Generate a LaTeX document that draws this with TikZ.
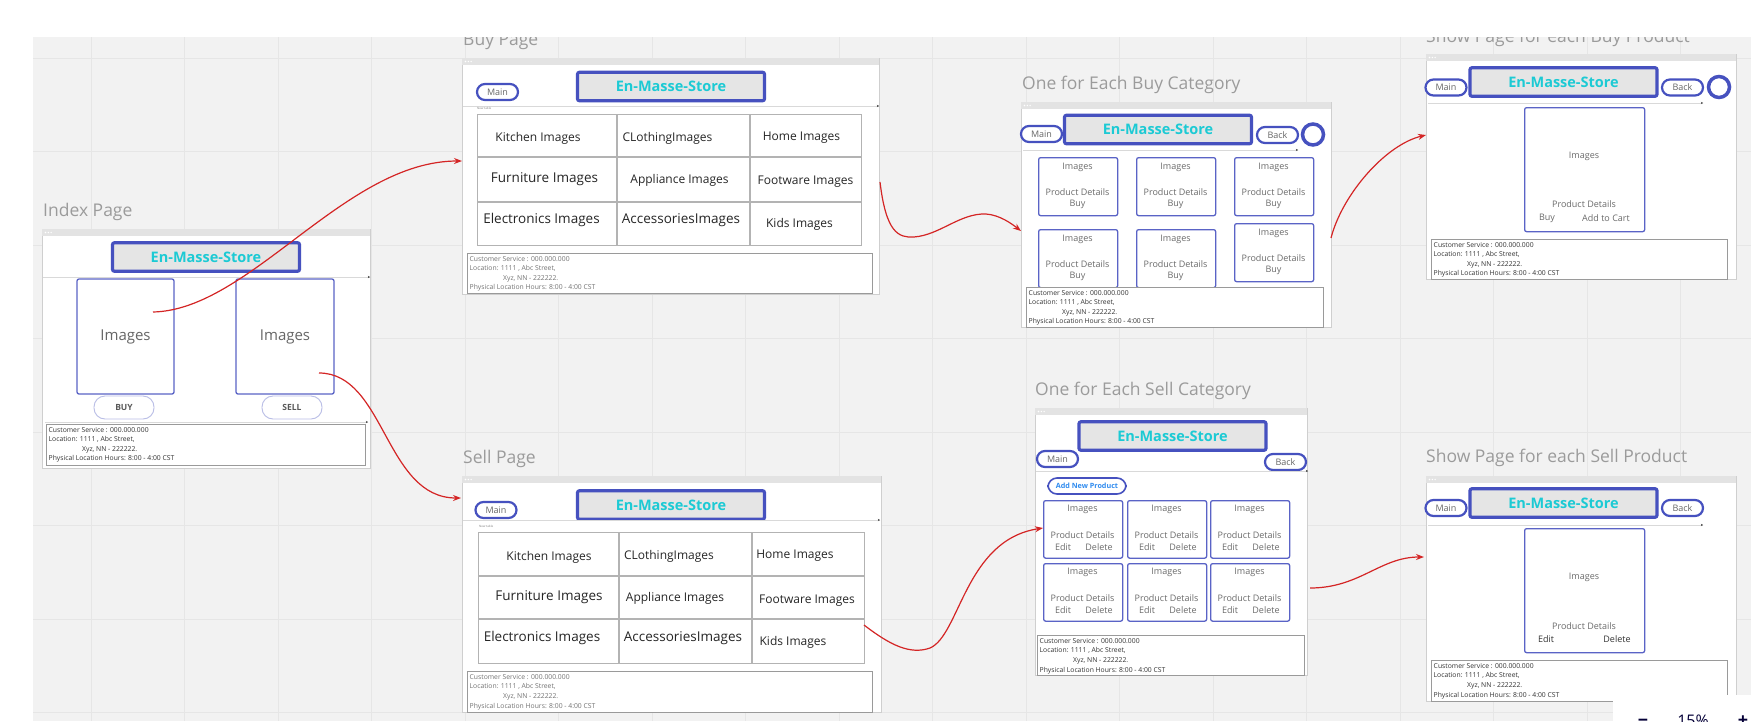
\documentclass[tikz,border=0pt]{standalone}
\usepackage{fontspec}
\setmainfont{Open Sans}
\usetikzlibrary{arrows.meta, positioning}
\definecolor{canvasgray}{HTML}{F2F2F2}
\definecolor{gridgray}{HTML}{E6E6E6}
\definecolor{framegray}{HTML}{CFCFCF}
\definecolor{bargray}{HTML}{E3E3E3}
\definecolor{titlegray}{HTML}{9B9B9B}
\definecolor{storeblue}{HTML}{4651BF}
\definecolor{storecyan}{HTML}{1CCAD4}
\definecolor{boxgray}{HTML}{E5E5E5}
\definecolor{prodblue}{HTML}{5A63C6}
\definecolor{tablegray}{HTML}{B3B3B3}
\definecolor{footgray}{HTML}{9A9A9A}
\definecolor{flowred}{HTML}{D42525}
\definecolor{addblue}{HTML}{2F8BEF}
\definecolor{pillgray}{HTML}{B9BDE6}
\definecolor{zoomnavy}{HTML}{050038}
\newcommand{\pxsize}[1]{\fontsize{#1}{#1}\selectfont}
\newcommand{\footlines}{Customer Service : 000.000.000\\Location: 1111 , Abc Street,\\\hspace*{33.5pt}Xyz, NN - 222222.\\Physical Location Hours: 8:00 - 4:00 CST}
% frame with grey top bar: name, x, y, width, height
\newcommand{\pageframe}[5]{%
    \node[pageframe, minimum width=#4pt, minimum height=#5pt] (#1) at (#2,#3) {};
    \fill[bargray] (#2,#3) rectangle ++(#4,7);
    \foreach \d in {0,1,2} \fill[white] ({#2+3.5+2.8*\d},{#3+3.5}) circle[radius=0.8pt];
}
\tikzset{
    gridline/.style={draw=gridgray, line width=0.8pt},
    pageframe/.style={rectangle, draw=framegray, line width=0.9pt, fill=white,
                      inner sep=0pt, anchor=north west},
    pagetitle/.style={font=\pxsize{17.5}, text=titlegray, anchor=base west, inner sep=0pt},
    storetitle/.style={rectangle, rounded corners=2pt, draw=storeblue, line width=3.2pt,
                       fill=boxgray, font=\pxsize{14.5}\bfseries, text=storecyan,
                       minimum width=187pt, minimum height=28.5pt, inner sep=0pt},
    navbtn/.style={rectangle, rounded corners=8pt, draw=storeblue, line width=2.2pt,
                   fill=white, font=\pxsize{9}, text=black!60, inner sep=0pt,
                   minimum width=41pt, minimum height=16pt},
    ringbtn/.style={circle, draw=storeblue, line width=3.5pt, fill=white,
                    minimum size=21pt, inner sep=0pt},
    headline/.style={draw=black!15, line width=0.8pt,
                     -{Stealth[length=2pt, width=2pt, black!80]}},
    imgbox/.style={rectangle, rounded corners=2pt, draw=prodblue, line width=1.3pt,
                   fill=white, font=\pxsize{15}, text=black!60, inner sep=0pt},
    pillbtn/.style={rectangle, rounded corners=11pt, draw=pillgray, line width=0.9pt,
                    fill=white, font=\pxsize{8.5}\bfseries, text=black!65,
                    minimum width=60pt, minimum height=23pt, inner sep=0pt},
    prodbox/.style={rectangle, rounded corners=2pt, draw=prodblue, line width=1.3pt,
                    fill=white, inner sep=0pt, anchor=north west},
    prodtxt/.style={font=\pxsize{9}, text=black!58, inner sep=0pt},
    cattable/.style={rectangle, draw=tablegray, line width=1.4pt, fill=white,
                     inner sep=0pt, anchor=north west},
    tablegrid/.style={draw=tablegray, line width=1.4pt},
    cellsm/.style={font=\pxsize{12}, text=black!85, inner sep=0pt},
    celllg/.style={font=\pxsize{13.5}, text=black!85, inner sep=0pt},
    tinytxt/.style={font=\pxsize{3}, text=black!50, anchor=north west, inner sep=0pt},
    addbtn/.style={navbtn, rounded corners=9pt, line width=1.6pt, minimum width=78pt,
                   font=\pxsize{7.2}\bfseries, text=addblue},
    footbox/.style={rectangle, draw=footgray, line width=1.3pt, fill=white,
                    inner sep=0pt, anchor=north west},
    foottxt/.style={font=\fontsize{6.8}{9.6}\selectfont, text=black!80, align=left,
                    anchor=north west, inner sep=0pt},
    flow/.style={-{Stealth[length=8pt, width=6pt]}, draw=flowred, line width=1.2pt},
}

\begin{document}
\begin{tikzpicture}[x=1pt, y=-1pt]
    \useasboundingbox (0,0) rectangle (1751,721);
    % canvas and grid
    \fill[white] (0,0) rectangle (1751,721);
    \fill[canvasgray] (33,37) rectangle (1751,721);
    \foreach \gx in {0,...,17} \draw[gridline] ({91+93.5*\gx},37) -- ({91+93.5*\gx},721);
    \foreach \gy in {0,...,7} \draw[gridline] (33,{58+93.5*\gy}) -- (1751,{58+93.5*\gy});

    % Index page
    \node[pagetitle] (idxlbl) at (43,216) {Index Page};
    \pageframe{idxframe}{42}{229}{328}{239}
    \node[storetitle] (idxstore) at (206,257) {En-Masse-Store};
    \draw[headline] (43,277) -- (370,277);
    \node[imgbox, minimum width=97pt, minimum height=115pt] (idximgbuy) at (125.5,336.5) {Images};
    \node[imgbox, minimum width=98pt, minimum height=115pt] (idximgsell) at (285,336.5) {Images};
    \node[pillbtn] (idxbuy) at (124,407.5) {BUY};
    \node[pillbtn] (idxsell) at (292,407.5) {SELL};
    \draw[headline] (45,422) -- (368,422);
    \node[footbox, minimum width=319pt, minimum height=41pt] (idxfoot) at (46,424) {};
    \node[foottxt] (idxfoottxt) at (48.5,427) {\footlines};

    % Buy page
    \node[pagetitle] (buylbl) at (463,45) {Buy Page};
    \pageframe{buyframe}{462}{58}{417}{236}
    \node[navbtn] (buymain) at (497.5,92) {Main};
    \node[storetitle] (buystore) at (671,86.5) {En-Masse-Store};
    \draw[headline] (463,106) -- (879,106);
    \node[tinytxt] (buynewtbl) at (477,107.5) {New table};
    \node[cattable, minimum width=384pt, minimum height=131pt] (buytable) at (477,114) {};
    \draw[tablegrid] (617,114) -- (617,245) (750,114) -- (750,245)
                     (477,157) -- (861,157) (477,202) -- (861,202);
    \node[cellsm] (buyc11) at (538,138) {Kitchen Images};
    \node[cellsm] (buyc12) at (667.5,138) {CLothingImages};
    \node[cellsm] (buyc13) at (801.5,138) {Home Images};
    \node[celllg] (buyc21) at (544.5,179) {Furniture Images};
    \node[cellsm] (buyc22) at (679.5,180) {Appliance Images};
    \node[cellsm] (buyc23) at (805.5,182) {Footware Images};
    \node[celllg] (buyc31) at (541.5,220) {Electronics Images};
    \node[celllg] (buyc32) at (681,220) {AccessoriesImages};
    \node[cellsm] (buyc33) at (799.5,224) {Kids Images};
    \node[footbox, minimum width=405pt, minimum height=40pt] (buyfoot) at (467,253) {};
    \node[foottxt, text=black!55] (buyfoottxt) at (469.5,256) {\footlines};

    % One for each buy category
    \node[pagetitle] (bcatlbl) at (1022,89) {One for Each Buy Category};
    \pageframe{bcatframe}{1021}{102}{310}{225}
    \node[navbtn] (bcatmain) at (1041.5,134) {Main};
    \node[storetitle] (bcatstore) at (1158,129.5) {En-Masse-Store};
    \node[navbtn] (bcatback) at (1277.5,135) {Back};
    \node[ringbtn] (bcatring) at (1313,134.5) {};
    \draw[headline] (1023,150) -- (1298,150);
    \foreach \r/\c/\bx/\by in {1/1/1038/157, 1/2/1136/157, 1/3/1234/157,
                               2/1/1038/229, 2/2/1136/229, 2/3/1234/223} {
        \node[prodbox, minimum width=79pt, minimum height=58pt] (bcat\r\c) at (\bx,\by) {};
        \node[prodtxt] (bcatimg\r\c) at ({\bx+39.5},{\by+10}) {Images};
        \node[prodtxt] (bcatdet\r\c) at ({\bx+39.5},{\by+35}) {Product Details};
        \node[prodtxt] (bcatbuy\r\c) at ({\bx+39.5},{\by+47}) {Buy};
    }
    \node[footbox, minimum width=297pt, minimum height=40pt] (bcatfoot) at (1026,287) {};
    \node[foottxt] (bcatfoottxt) at (1028.5,290) {\footlines};

    % Show page for each buy product
    \node[pagetitle] (bshowlbl) at (1426,42) {Show Page for each Buy Product};
    \pageframe{bshowframe}{1426}{54}{310}{225}
    \node[navbtn] (bshowmain) at (1446,87.5) {Main};
    \node[storetitle] (bshowstore) at (1563.5,82) {En-Masse-Store};
    \node[navbtn] (bshowback) at (1682.5,87.5) {Back};
    \node[ringbtn] (bshowring) at (1719,87) {};
    \draw[headline] (1428,103) -- (1703,103);
    \node[prodbox, minimum width=120pt, minimum height=124pt] (bshowprod) at (1524,107) {};
    \node[prodtxt] (bshowimg) at (1584,156) {Images};
    \node[prodtxt] (bshowdet) at (1584,204) {Product Details};
    \node[prodtxt] (bshowbuy) at (1547,218) {Buy};
    \node[prodtxt] (bshowcart) at (1606,218) {Add to Cart};
    \node[footbox, minimum width=296pt, minimum height=40pt] (bshowfoot) at (1431,239) {};
    \node[foottxt] (bshowfoottxt) at (1433.5,242) {\footlines};

    % Sell page
    \node[pagetitle] (selllbl) at (463,463) {Sell Page};
    \pageframe{sellframe}{462}{476}{419}{236}
    \node[navbtn] (sellmain) at (496,510) {Main};
    \node[storetitle] (sellstore) at (671,505) {En-Masse-Store};
    \draw[headline] (463,520) -- (880,520);
    \node[tinytxt] (sellnewtbl) at (479,525.5) {New table};
    \node[cattable, minimum width=386pt, minimum height=131pt] (selltable) at (478,532) {};
    \draw[tablegrid] (619,532) -- (619,663) (752,532) -- (752,663)
                     (478,576) -- (864,576) (478,619) -- (864,619);
    \node[cellsm] (sellc11) at (549,557) {Kitchen Images};
    \node[cellsm] (sellc12) at (669,556) {CLothingImages};
    \node[cellsm] (sellc13) at (795,556) {Home Images};
    \node[celllg] (sellc21) at (549,597) {Furniture Images};
    \node[cellsm] (sellc22) at (675,598) {Appliance Images};
    \node[cellsm] (sellc23) at (807,601) {Footware Images};
    \node[celllg] (sellc31) at (542,638) {Electronics Images};
    \node[celllg] (sellc32) at (683,638) {AccessoriesImages};
    \node[cellsm] (sellc33) at (793,642) {Kids Images};
    \node[footbox, minimum width=405pt, minimum height=41pt] (sellfoot) at (467,671) {};
    \node[foottxt, text=black!55] (sellfoottxt) at (469.5,674) {\footlines};

    % One for each sell category
    \node[pagetitle] (scatlbl) at (1035,395) {One for Each Sell Category};
    \pageframe{scatframe}{1035}{408}{272}{267}
    \node[storetitle] (scatstore) at (1172.5,436) {En-Masse-Store};
    \node[navbtn] (scatmain) at (1057.5,459) {Main};
    \node[navbtn] (scatback) at (1285.5,462) {Back};
    \draw[headline] (1036,471) -- (1308,471);
    \node[addbtn] (scatadd) at (1087,486) {Add New Product};
    \foreach \r/\c/\bx/\by in {1/1/1043/500, 1/2/1127/500, 1/3/1210/500,
                               2/1/1043/563, 2/2/1127/563, 2/3/1210/563} {
        \node[prodbox, minimum width=79pt, minimum height=57.5pt] (scat\r\c) at (\bx,\by) {};
        \node[prodtxt] (scatimg\r\c) at ({\bx+39.5},{\by+9}) {Images};
        \node[prodtxt] (scatdet\r\c) at ({\bx+39.5},{\by+35}) {Product Details};
        \node[prodtxt] (scatedit\r\c) at ({\bx+20},{\by+47}) {Edit};
        \node[prodtxt] (scatdel\r\c) at ({\bx+56},{\by+47}) {Delete};
    }
    \node[footbox, minimum width=267pt, minimum height=40pt] (scatfoot) at (1037,635) {};
    \node[foottxt] (scatfoottxt) at (1039.5,638) {\footlines};

    % Show page for each sell product
    \node[pagetitle] (sshowlbl) at (1426,462) {Show Page for each Sell Product};
    \pageframe{sshowframe}{1426}{476}{310}{225}
    \node[navbtn] (sshowmain) at (1446,508) {Main};
    \node[storetitle] (sshowstore) at (1563.5,503) {En-Masse-Store};
    \node[navbtn] (sshowback) at (1682.5,508) {Back};
    \draw[headline] (1428,525) -- (1703,525);
    \node[prodbox, minimum width=120pt, minimum height=124pt] (sshowprod) at (1524,528) {};
    \node[prodtxt] (sshowimg) at (1584,577) {Images};
    \node[prodtxt] (sshowdet) at (1584,626) {Product Details};
    \node[prodtxt, text=black!80] (sshowedit) at (1546,639) {Edit};
    \node[prodtxt, text=black!80] (sshowdel) at (1617,639) {Delete};
    \node[footbox, minimum width=296pt, minimum height=41pt] (sshowfoot) at (1431,660) {};
    \node[foottxt] (sshowfoottxt) at (1433.5,663) {\footlines};

    % flow between pages
    \coordinate (tobuy0) at (153,312);
    \coordinate (tobuy1) at (462,161);
    \coordinate (tosell0) at (319,373);
    \coordinate (tosell1) at (461,498);
    \coordinate (tobcat0) at (880,182);
    \coordinate (tobcat1) at (1021,231);
    \coordinate (tobshow0) at (1331,238);
    \coordinate (tobshow1) at (1426,135);
    \coordinate (toscat0) at (864,625);
    \coordinate (toscat1) at (1043,528);
    \coordinate (tosshow0) at (1310,588);
    \coordinate (tosshow1) at (1424,557);
    \draw[flow] (tobuy0) .. controls (250,310) and (345,161) .. (tobuy1);
    \draw[flow] (tosell0) .. controls (385,373) and (385,498) .. (tosell1);
    \draw[flow] (tobcat0) .. controls (886,232) and (898,238) .. (914,237)
                .. controls (940,235) and (960,213) .. (986,214)
                .. controls (1000,215) and (1012,224) .. (tobcat1);
    \draw[flow] (tobshow0) .. controls (1342,195) and (1385,145) .. (tobshow1);
    \draw[flow] (toscat0) .. controls (890,645) and (910,655) .. (930,648)
                .. controls (960,635) and (965,540) .. (toscat1);
    \draw[flow] (tosshow0) .. controls (1360,588) and (1380,557) .. (tosshow1);

    % app chrome
    \fill[white] (0,0) rectangle (1751,37);
    \fill[white] (0,0) rectangle (33,721);
    \fill[white] (1613,695) rectangle (1751,721);
    \node[font=\pxsize{18}\bfseries, text=zoomnavy, anchor=base, inner sep=0pt] (zoomout) at (1643,726) {−};
    \node[font=\pxsize{16}, text=zoomnavy, anchor=base, inner sep=0pt] (zoomval) at (1693,726) {15\%};
    \node[font=\pxsize{18}\bfseries, text=zoomnavy, anchor=base, inner sep=0pt] (zoomin) at (1743,726) {+};
\end{tikzpicture}
\end{document}
